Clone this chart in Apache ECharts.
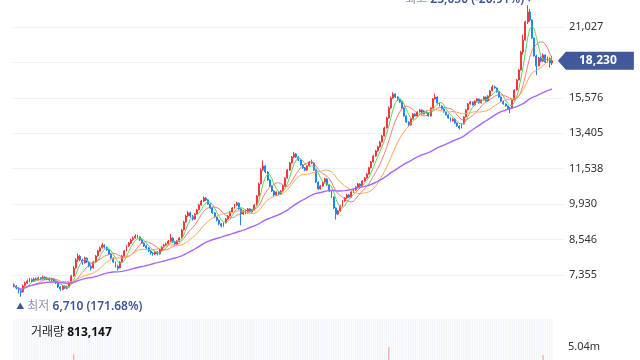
<!DOCTYPE html>
<html><head><meta charset="utf-8">
<script src="https://cdn.jsdelivr.net/npm/echarts@6/dist/echarts.min.js"></script>
<style>html,body{margin:0;padding:0;background:#fff}#c{width:640px;height:360px}</style>
</head><body><div id="c"></div>
<script>
const opens=[7060,7010,6950,6880,6850,7030,7100,7160,7210,7160,7240,7200,7270,7230,7290,7220,7260,7200,7230,7170,7110,6990,6920,7020,6950,6990,7120,7330,7580,7850,7960,7830,7740,7900,7760,7630,7580,7780,7980,8130,8260,8340,8270,8180,8030,7900,7760,7630,7580,7780,7970,8150,8320,8410,8540,8610,8680,8640,8530,8410,8320,8250,8140,8060,8040,8110,8040,8180,8280,8350,8390,8490,8600,8460,8390,8490,8610,8910,9210,9450,9570,9440,9320,9520,9700,9890,10060,10190,10110,9930,9770,9570,9400,9280,9130,9050,9170,9320,9440,9610,9770,9890,9970,9730,9520,9650,9570,9730,9610,9690,9890,10290,10820,11480,11670,11380,11000,10720,10500,10320,10450,10370,10500,10720,11090,11470,11820,12120,12280,12120,11970,11720,11580,11470,11670,11870,11820,11470,10900,10590,10720,10900,11050,10770,10500,10230,9770,9520,9650,9850,10060,10190,10320,10230,10450,10540,10680,10810,10720,10950,11090,11280,11580,11870,12170,12440,12650,12920,13250,13710,14300,14920,15560,15830,15630,15440,15310,14920,14420,14060,13880,14240,14550,14420,14670,14800,14550,14730,14610,14420,14920,15500,15630,15240,15050,14860,14670,14490,14300,14120,14240,14000,13820,13710,13940,14360,14800,15180,15310,15110,15370,15500,15240,15440,15630,15370,15700,16040,16310,16240,15970,15630,15370,15180,15050,14860,14920,15440,16100,16800,17530,18910,19900,21480,22410,21660,20070,18600,17830,18430,18190,18680,18120,18430,18050];
const closes=[7020,6960,6870,6840,7020,7110,7170,7200,7170,7230,7200,7260,7230,7290,7230,7260,7200,7230,7170,7110,6990,6930,7020,6960,6990,7110,7320,7570,7840,7970,7840,7740,7900,7770,7640,7570,7770,7970,8140,8250,8350,8280,8180,8040,7900,7770,7640,7570,7770,7970,8140,8320,8420,8530,8600,8670,8640,8530,8420,8320,8250,8140,8070,8040,8110,8040,8180,8280,8350,8390,8490,8600,8460,8390,8490,8600,8900,9200,9440,9570,9440,9320,9520,9690,9890,10060,10190,10110,9930,9770,9570,9400,9280,9130,9050,9170,9320,9440,9610,9770,9890,9970,9730,9520,9650,9570,9730,9610,9690,9890,10280,10810,11470,11670,11380,11000,10720,10500,10320,10450,10370,10500,10720,11090,11470,11820,12120,12280,12120,11970,11720,11580,11470,11670,11870,11820,11470,10900,10590,10720,10900,11050,10770,10500,10230,9770,9520,9650,9850,10060,10190,10320,10230,10450,10540,10680,10810,10720,10950,11090,11280,11580,11870,12170,12440,12650,12920,13250,13710,14300,14920,15560,15830,15630,15440,15310,14920,14420,14060,13880,14240,14550,14420,14670,14800,14550,14730,14610,14420,14920,15500,15630,15240,15050,14860,14670,14490,14300,14120,14240,14000,13820,13710,13940,14360,14800,15180,15310,15110,15370,15500,15240,15440,15630,15370,15700,16040,16310,16240,15970,15630,15370,15180,15050,14860,14920,15440,16100,16800,17530,18910,19900,21480,22410,21660,20070,18600,17830,18430,18190,18680,18120,18430,18050,18230];
const lows=[6980,6920,6800,6710,6830,7000,7080,7130,7140,7140,7170,7180,7190,7210,7200,7190,7170,7160,7140,7080,6960,6880,6900,6930,6920,6970,7100,7300,7550,7780,7800,7680,7720,7740,7600,7500,7560,7750,7950,8100,8220,8230,8150,8010,7860,7740,7590,7500,7560,7760,7950,8120,8280,8380,8500,8570,8590,8500,8390,8280,8200,8100,8020,7980,8010,7990,8020,8150,8250,8310,8360,8460,8420,8340,8360,8460,8590,8880,9180,9400,9380,9260,9290,9490,9670,9860,10020,10060,9900,9730,9530,9360,9230,9080,9000,9020,9150,9290,9420,9590,9740,9850,9700,9080,9490,9520,9540,9570,9580,9670,9870,10270,10800,11420,11320,10950,10680,10450,10270,10290,10320,10340,10480,10700,11060,11440,11790,12060,12070,11920,11680,11530,11420,11440,11640,11760,11430,10860,10550,10560,10690,10870,10730,10460,10190,9730,9300,9490,9620,9820,10030,10160,10190,10200,10410,10510,10650,10670,10700,10920,11060,11250,11550,11840,12130,12400,12610,12890,13220,13680,14260,14880,15500,15560,15380,15250,14870,14380,14010,13780,13850,14210,14370,14390,14630,14510,14520,14570,14380,14390,14890,15460,15200,15010,14820,14630,14450,14260,14080,14090,13960,13780,13620,13680,13910,14330,14770,15140,15070,15080,15340,15200,15210,15410,15330,15340,15670,16000,16190,15930,15590,15330,15140,15000,14820,14600,14890,15410,16070,16760,17490,18700,19850,21300,21500,20000,18550,17150,17800,18100,18150,18050,18080,17700,17900];
const highs=[7100,7050,6980,6900,7060,7150,7220,7260,7250,7270,7280,7300,7290,7330,7310,7300,7280,7270,7250,7190,7130,7010,7050,7040,7030,7140,7360,7640,7900,8060,8010,7880,7950,7930,7800,7680,7800,8000,8180,8300,8420,8380,8300,8200,8060,7930,7790,7680,7800,8000,8180,8350,8460,8580,8660,8740,8720,8670,8560,8450,8360,8280,8170,8110,8150,8140,8210,8310,8390,8440,8530,8750,8640,8500,8530,8640,8940,9250,9500,9640,9620,9480,9560,9730,9940,10110,10260,10230,10140,9960,9800,9600,9430,9310,9170,9200,9360,9480,9650,9810,9940,10030,10000,9760,9690,9700,9770,9760,9730,9930,10320,10880,11560,11950,11720,11420,11040,10760,10540,10490,10500,10540,10760,11130,11520,11870,12180,12380,12330,12160,12000,11760,11620,11710,11920,11990,11850,11500,10940,10760,10940,11100,11080,10800,10530,10260,9800,9690,9890,10100,10230,10370,10360,10490,10590,10720,10860,10850,10990,11140,11330,11630,11920,12220,12490,12710,12980,13310,13780,14380,15010,15650,15950,15880,15680,15490,15350,14960,14460,14100,14280,14600,14590,14710,14860,14830,14770,14760,14650,14960,15560,15850,15670,15280,15090,14900,14710,14530,14340,14280,14270,14030,13850,13980,14400,14840,15230,15360,15340,15410,15550,15530,15480,15680,15660,15750,16090,16450,16400,16270,16000,15660,15400,15210,15080,14980,15480,16150,16860,17600,19000,20350,21600,23050,22700,21700,20100,18700,18520,18560,18800,18720,18540,18480,18600];
const volumes=[520000,610000,880000,1240000,950000,700000,560000,480000,430000,510000,
460000,420000,390000,450000,400000,380000,360000,410000,390000,470000,
690000,820000,610000,540000,500000,980000,2150000,4800000,3900000,3100000,
2050000,1620000,1480000,1250000,1380000,1520000,1290000,1640000,1870000,1710000,
1950000,1420000,1130000,1060000,1190000,1240000,1310000,1180000,1270000,1450000,
1520000,1610000,1380000,1490000,1570000,1820000,1360000,1120000,1040000,980000,
930000,1010000,870000,820000,760000,840000,1050000,1130000,990000,1080000,
1240000,2360000,1480000,1110000,1230000,1390000,2480000,2910000,2650000,2270000,
1840000,1560000,1690000,1820000,2130000,2460000,2380000,1750000,1640000,1520000,
1480000,1390000,1270000,1310000,1240000,1180000,1260000,1330000,1410000,1520000,
1460000,1390000,1570000,1880000,1290000,1140000,1220000,1080000,1170000,1530000,
2460000,3380000,4150000,4420000,2860000,2340000,1970000,1630000,1490000,1320000,
1180000,1260000,1540000,2090000,2680000,2970000,3150000,3360000,2410000,1980000,
1870000,1650000,1520000,1740000,1960000,2120000,1890000,2570000,2230000,1640000,
1420000,1510000,1630000,1780000,1960000,2640000,2980000,1870000,1640000,1520000,
1380000,1290000,1150000,1320000,1270000,1410000,1360000,1220000,1480000,1570000,
1730000,2060000,2440000,2690000,2870000,3040000,3320000,3580000,3960000,4310000,
5040000,4460000,3870000,2940000,2360000,2110000,2480000,2670000,2290000,2130000,
1980000,1760000,1540000,1620000,1580000,1470000,1390000,1320000,1410000,1860000,
2390000,2570000,1940000,1620000,1480000,1370000,1290000,1340000,1260000,1180000,
1230000,1310000,1420000,1560000,1870000,2140000,2260000,1810000,1590000,1640000,
1720000,1480000,1390000,1530000,1450000,1690000,1980000,2370000,1850000,1620000,
1570000,1480000,1360000,1290000,1340000,1560000,2210000,2870000,3340000,3760000,
4280000,4410000,4370000,4520000,3980000,3340000,3010000,2680000,2150000,1730000,
4780000,1640000,1290000,1120000,813147];
const tickLabels=[7355,8546,9930,11538,13405,15576,18098,21027];
const volumeTick=5040000;
const maPeriods=[5,10,20,60];
const maColors=['#5fd35f','rgba(250,80,80,0.75)','#ffa552','#a468fb'];

const N=closes.length;
const days=closes.map((_,i)=>String(i+1));
const ratio=Math.pow(tickLabels[tickLabels.length-1]/tickLabels[0],1/(tickLabels.length-1));
const toT=p=>Math.log(p/tickLabels[0])/Math.log(ratio);
const fmt=v=>Math.round(v).toLocaleString('en-US');

const candles=closes.map((c,i)=>[toT(opens[i]),toT(c),toT(lows[i]),toT(highs[i])]);
function ma(n){return closes.map((_,i)=>{const s=Math.max(0,i-n+1);let sum=0;for(let k=s;k<=i;k++)sum+=closes[k];return toT(sum/(i-s+1));});}

let iMax=0,iMin=0;
highs.forEach((h,i)=>{if(h>highs[iMax])iMax=i;});
lows.forEach((l,i)=>{if(l<lows[iMin])iMin=i;});
const last=closes[N-1];
const pctHigh=((last/highs[iMax]-1)*100).toFixed(2);
const pctLow=((last/lows[iMin]-1)*100).toFixed(2);

const UP='#f23a3a',DOWN='#1f87ef';
const FONT="'Noto Sans','Noto Sans CJK KR',sans-serif";
const GRIDC='#eef1f6',NONE='rgba(0,0,0,0)';
const chart=echarts.init(document.getElementById('c'),null,{renderer:'canvas'});

const maSeries=maPeriods.map((p,k)=>({
  type:'line',name:'MA'+p,data:ma(p),xAxisIndex:0,yAxisIndex:0,
  showSymbol:false,symbol:'none',smooth:false,silent:true,
  lineStyle:{color:maColors[k],width:k===3?1.4:1},z:3
}));

const option={
  animation:false,
  textStyle:{fontFamily:FONT},
  title:{
    left:26,top:322,
    text:'거래량 {b|'+fmt(volumes[N-1])+'}',
    textStyle:{fontSize:12,fontWeight:'normal',color:'#222',fontFamily:FONT,
      rich:{b:{fontSize:12,fontWeight:'bold',color:'#111',fontFamily:FONT}}}
  },
  grid:[
    {left:13,top:0,width:551,height:310.43,outerBoundsMode:'none'},
    {left:13,top:319,width:540,height:41,outerBoundsMode:'none'}
  ],
  xAxis:[
    {type:'category',data:days,gridIndex:0,boundaryGap:true,max:249,show:false},
    {type:'category',data:days,gridIndex:1,boundaryGap:true,show:false}
  ],
  yAxis:[
    {type:'value',gridIndex:0,position:'right',min:-1,max:7.762,interval:1,scale:false,
      axisLine:{show:false},axisTick:{show:false},
      splitLine:{show:true,lineStyle:{width:1,color:[NONE,GRIDC,GRIDC,GRIDC,GRIDC,GRIDC,GRIDC,GRIDC,GRIDC,NONE,NONE]}},
      axisLabel:{margin:5,fontSize:11,color:'#333',fontFamily:FONT,showMaxLabel:false,
        formatter:v=>{const k=Math.round(v);if(Math.abs(v-k)>1e-6||k<0||k>=tickLabels.length)return '';return fmt(tickLabels[k]);}}
    },
    {type:'value',gridIndex:1,position:'right',min:4620000,max:5945000,interval:420000,
      axisLine:{show:false},axisTick:{show:false},splitLine:{show:false},
      axisLabel:{margin:15,fontSize:11,color:'#333',fontFamily:FONT,showMinLabel:false,showMaxLabel:false,
        formatter:v=>Math.abs(v-volumeTick)<1?(v/1e6).toFixed(2)+'m':''}
    }
  ],
  series:[
    {
      type:'bar',xAxisIndex:1,yAxisIndex:1,data:volumes,barCategoryGap:'35%',clip:true,
      showBackground:true,backgroundStyle:{color:'#f3f5fa'},silent:true,
      itemStyle:{color:p=>closes[p.dataIndex]>=opens[p.dataIndex]?'rgba(240,90,90,0.45)':'rgba(40,130,240,0.4)'}
    },
    {
      type:'candlestick',xAxisIndex:0,yAxisIndex:0,data:candles,barWidth:'65%',z:2,
      itemStyle:{color:UP,color0:DOWN,borderColor:UP,borderColor0:DOWN,borderWidth:1},
      markPoint:{
        animation:false,silent:true,
        data:[
          {coord:[iMax,toT(highs[iMax])],symbol:'circle',symbolSize:1,itemStyle:{color:NONE},
            label:{show:true,position:'left',distance:0,offset:[5,-6],
              formatter:'{g|최고} {n|'+fmt(highs[iMax])+' ('+pctHigh+'%)} {a|▾}',
              rich:{g:{color:'#8d97b3',fontSize:12,fontFamily:FONT},n:{color:'#3f5597',fontSize:12,fontWeight:600,fontFamily:FONT},a:{color:'#3f5597',fontSize:9}}}},
          {coord:[iMin,toT(lows[iMin])],symbol:'circle',symbolSize:1,itemStyle:{color:NONE},
            label:{show:true,position:'right',distance:0,offset:[-5,10],
              formatter:'{a|▲} {g|최저} {n|'+fmt(lows[iMin])+' ('+pctLow+'%)}',
              rich:{g:{color:'#8d97b3',fontSize:12,fontFamily:FONT},n:{color:'#3f5597',fontSize:12,fontWeight:600,fontFamily:FONT},a:{color:'#3f5597',fontSize:8}}}},
          {coord:[N-1,toT(last)],symbol:'path://M0,9 L8,0 L76,0 L76,18 L8,18 Z',symbolSize:[76,18],symbolOffset:[44,0],
            itemStyle:{color:'#41599a'},
            label:{show:true,position:'inside',offset:[2,0],formatter:fmt(last),color:'#fff',fontSize:12,fontWeight:'bold',fontFamily:FONT}}
        ]
      }
    },
    ...maSeries
  ]
};
chart.setOption(option);
</script>
</body></html>
